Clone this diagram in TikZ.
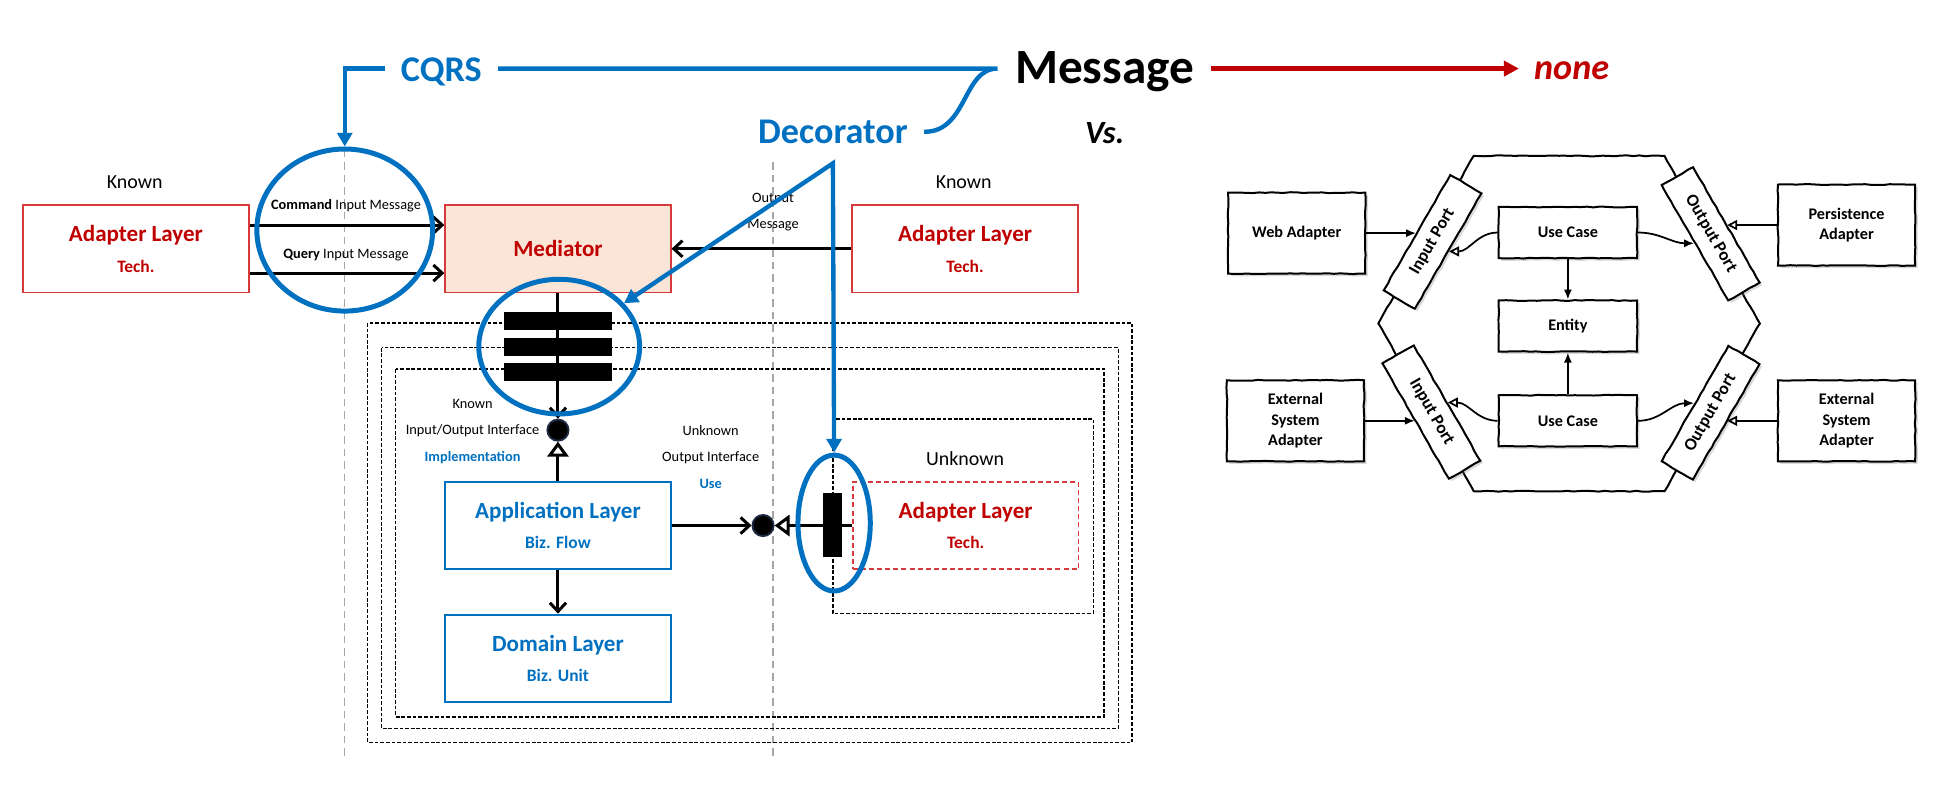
\documentclass[tikz,border=0pt]{standalone}
\usepackage{fontspec}
\setmainfont{Carlito}
\usetikzlibrary{arrows.meta,calc,shapes.geometric,shadows,decorations.pathmorphing}
\definecolor{msblue}{HTML}{0070C0}
\definecolor{msred}{HTML}{C00000}
\definecolor{boxred}{HTML}{D8393A}
\definecolor{medfill}{HTML}{FBE5D6}
\definecolor{dotrim}{HTML}{1F2A44}
\newcommand{\fsz}[2]{\fontsize{#1}{#2}\selectfont}
\pgfmathsetseed{7}

\begin{document}
\begin{tikzpicture}[x=1pt,y=-1pt,
	title/.style={inner xsep=13pt,inner ysep=2pt,anchor=base},
	hl/.style={draw=msblue,line width=3.5pt},
	hlarrow/.style={hl,-{Triangle[length=11pt,width=12pt]}},
	ring/.style={ellipse,draw=msblue,line width=4pt,inner sep=0pt},
	layer/.style={minimum width=181pt,minimum height=70pt,align=center,font=\bfseries\fsz{18.5}{24.5}},
	redlayer/.style={layer,draw=boxred,line width=1.3pt,text=msred},
	bluelayer/.style={layer,draw=msblue,line width=1.6pt,text=msblue},
	flow/.style={line width=2.4pt,-{Straight Barb[length=7pt,width=13pt]}},
	impl/.style={line width=2.4pt,-{Triangle[open,length=12pt,width=17pt]}},
	dot/.style={circle,fill=black,draw=dotrim,line width=1.5pt,minimum size=17pt,inner sep=0pt},
	bar/.style={fill=black,minimum width=87pt,minimum height=14.5pt,inner sep=0pt},
	frame/.style={draw,line width=1pt,dash pattern=on 3pt off 1.5pt},
	guide/.style={draw=black!35,line width=1pt,dash pattern=on 6pt off 4pt},
	note/.style={font=\fsz{11.5}{21},align=center},
	sketch/.style={draw,line width=1.6pt,decorate,decoration={random steps,segment length=5pt,amplitude=.35pt}},
	hexbox/.style={sketch,fill=white,drop shadow={shadow xshift=2pt,shadow yshift=-2pt,opacity=.3},minimum width=110pt,minimum height=65pt,align=center,font=\bfseries\fsz{13}{16.6}},
	port/.style={sketch,fill=white,drop shadow={shadow xshift=2pt,shadow yshift=-2pt,opacity=.3},minimum width=107pt,minimum height=29pt,inner sep=0pt,font=\bfseries\fsz{14}{16}},
	hx/.style={line width=1.4pt,-{Latex[length=8pt,width=6.5pt]}},
	hxo/.style={line width=1.4pt,-{Triangle[open,length=8pt,width=8pt]}}]

\useasboundingbox (0,0) rectangle (1568,645);

\node[title,text=msblue,font=\bfseries\fsz{29}{35}] (cqrs) at (354,65.5) {CQRS};
\node[title,font=\bfseries\fsz{39.5}{47}] (msg) at (886,67) {Message};
\node[title,inner xsep=12pt,text=msred,font=\bfseries\itshape\fsz{29}{35}] (none) at (1260.5,64) {none};
\node[title,text=msblue,font=\bfseries\fsz{29}{35}] (deco) at (668,115) {Decorator};
\node[title,font=\bfseries\itshape\fsz{26}{31}] (vs) at (886,115) {Vs.};
\coordinate (join) at (800,55);
\coordinate (fork) at (668,131);

\begin{scope}
	\draw[guide] (276,120) -- (276,609);
	\draw[guide] (620,130) -- (620,609);
	\draw[frame] (295,259) rectangle (908,595.5);
	\draw[frame] (306,279) rectangle (897,584);
	\draw[frame] (317.5,296) rectangle (885.5,575);
	\draw[frame] (668,336) rectangle (877,492);

	\node[font=\fsz{16}{19}] (knownIn) at (108,146.5) {Known};
	\node[font=\fsz{16}{19}] (knownOut) at (773,146.5) {Known};
	\node[redlayer] (adIn) at (109,199.5) {Adapter Layer\\\fsz{14}{24.5}Tech.};
	\node[redlayer,fill=medfill] (med) at (447.5,199.5) {Mediator};
	\node[redlayer] (adOut) at (774,199.5) {Adapter Layer\\\fsz{14}{24.5}Tech.};
	\node[bluelayer] (app) at (447.5,421.5) {Application Layer\\\fsz{14}{24.5}Biz. Flow};
	\node[bluelayer] (dom) at (447.5,528) {Domain Layer\\\fsz{14}{24.5}Biz. Unit};
	\node[redlayer,dash pattern=on 4pt off 2.5pt] (adUnk) at (774.5,421.5) {Adapter Layer\\\fsz{14}{24.5}Tech.};
	\node[font=\fsz{16}{19}] (unkLbl) at (774,368) {Unknown};

	\node[note] (cmdLbl) at (277.5,165) {\textbf{Command} Input Message};
	\node[note] (qryLbl) at (277.5,204.5) {\textbf{Query} Input Message};
	\node[note] (outLbl) at (620,170) {Output\\Message};
	\node[note] (ioLbl) at (379,346) {Known\\Input/Output Interface\\\textcolor{msblue}{\textbf{Implementation}}};
	\node[note] (useLbl) at (570,366.5) {Unknown\\Output Interface\\\textcolor{msblue}{\textbf{Use}}};

	\node[dot] (ioDot) at (447.5,345) {};
	\node[dot] (useDot) at (612,421.5) {};

	\draw[flow] ([yshift=19pt]adIn.east) -- ([yshift=19pt]adIn.east -| med.west);
	\draw[flow] ([yshift=-19.5pt]adIn.east) -- ([yshift=-19.5pt]adIn.east -| med.west);
	\draw[flow] (adOut.west) -- (med.east);
	\draw[flow] (med.south) -- (ioDot.north);
	\draw[impl] (app.north) -- (ioDot.south);
	\draw[flow] (app.south) -- (dom.north);
	\draw[flow] (app.east) -- (useDot.west);
	\draw[impl] (adUnk.west) -- (useDot.east);

	\foreach \y [count=\i] in {257.5,278,298}
	{
		\node[bar] (bar\i) at (447.5,\y) {};
	}
	\node[bar,minimum width=15.5pt,minimum height=51pt] (plug) at (667.5,421) {};

	\node[ring,minimum width=141pt,minimum height=130pt] (cqrsRing) at (276.5,184.5) {};
	\node[ring,minimum width=129pt,minimum height=108pt] (medRing) at (448.5,278) {};
	\node[ring,minimum width=58pt,minimum height=109pt] (plugRing) at (669,419.5) {};
\end{scope}

\draw[hlarrow] (cqrs.west |- join) -| (cqrsRing.north);
\draw[hl] (cqrs.east |- join) -- (join) .. controls (772,55) and (776,106) .. (deco.east);
\draw[hl,{Triangle[length=11pt,width=12pt]}-{Triangle[length=11pt,width=12pt]}] (medRing) -- (fork) -- (plugRing.north);
\draw[draw=msred,line width=3.5pt,-{Triangle[length=12pt,width=12pt]}] (msg.east |- join) -- (none.west |- join);

\begin{scope}
	\draw[sketch] (1411.5,259.5) -- (1335,125) -- (1182,125) -- (1105.5,259.5) -- (1182,394) -- (1335,394) -- cycle;
	\node[hexbox] (web) at (1040,187) {Web Adapter};
	\node[hexbox] (pers) at (1481,180.5) {Persistence\\Adapter};
	\node[hexbox] (extL) at (1039,337.5) {External\\System\\Adapter};
	\node[hexbox] (extR) at (1481,337.5) {External\\System\\Adapter};
	\node[hexbox,minimum width=111pt,minimum height=41pt] (uc1) at (1257.5,186.5) {Use Case};
	\node[hexbox,minimum width=111pt,minimum height=41pt] (ent) at (1257.5,261.5) {Entity};
	\node[hexbox,minimum width=111pt,minimum height=41pt] (uc2) at (1257.5,337.5) {Use Case};
	\node[port,rotate=60] (inUp) at (1149,194) {Input Port};
	\node[port,rotate=-60] (inLow) at (1148,330.5) {Input Port};
	\node[port,rotate=-60] (outUp) at (1372,187.5) {Output Port};
	\node[port,rotate=60] (outLow) at (1372,331) {Output Port};

	\draw[hx] (web.east) -- (web.east -| inUp.north);
	\draw[hxo] (uc1.west) to[out=180,in=0] (inUp.south);
	\draw[hx] (uc1.east) to[out=0,in=180] (outUp.south);
	\draw[hxo] (pers.west) -- (pers.west -| outUp.north);
	\draw[hx] (uc1.south) -- (ent.north);
	\draw[hx] (uc2.north) -- (ent.south);
	\draw[hx] (extL.east) -- (extL.east -| inLow.south);
	\draw[hxo] (uc2.west) to[out=180,in=0] (inLow.north);
	\draw[hx] (uc2.east) to[out=0,in=180] (outLow.north);
	\draw[hxo] (extR.west) -- (extR.west -| outLow.south);
\end{scope}
\end{tikzpicture}
\end{document}
